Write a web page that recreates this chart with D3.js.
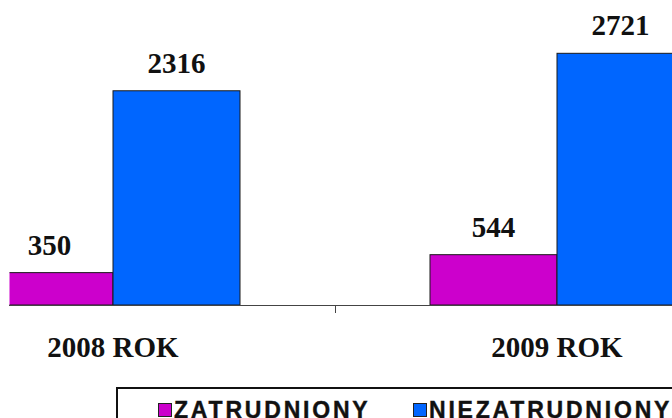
<!DOCTYPE html>
<html>
<head>
<meta charset="utf-8">
<script src="https://cdn.jsdelivr.net/npm/d3@7"></script>
<style>
html,body{margin:0;padding:0;background:#fff;}
svg{display:block;}
</style>
</head>
<body>
<script>
const categories = ["2008 ROK", "2009 ROK"];
const seriesNames = ["ZATRUDNIONY", "NIEZATRUDNIONY"];
const zatrudniony = [350, 544];
const niezatrudniony = [2316, 2721];
const seriesColors = ["#CC00CC", "#0066FF"];

const W = 672, H = 418;
const svg = d3.select("body").append("svg").attr("width", W).attr("height", H);

const x0 = d3.scaleBand().domain(categories).range([-109, 779]).paddingInner(0).paddingOuter(0);
const x1 = d3.scaleBand().domain(seriesNames).range([0, x0.bandwidth()]).paddingInner(0).paddingOuter(0.748);
const y = d3.scaleLinear().domain([0, 3000]).range([305, 27.5]);

const values = [zatrudniony, niezatrudniony];
const data = [];
categories.forEach((c, i) => {
  seriesNames.forEach((s, j) => {
    data.push({cat: c, series: s, value: values[j][i], color: seriesColors[j]});
  });
});

svg.append("defs").append("clipPath").attr("id", "plotclip")
  .append("rect").attr("x", 9.5).attr("y", 0).attr("width", W).attr("height", H);

const plot = svg.append("g").attr("clip-path", "url(#plotclip)");

plot.selectAll("rect.bar").data(data).enter().append("rect")
  .attr("class", "bar")
  .attr("x", d => x0(d.cat) + x1(d.series))
  .attr("width", x1.bandwidth())
  .attr("y", d => y(d.value))
  .attr("height", d => y(0) - y(d.value))
  .attr("fill", d => d.color)
  .attr("stroke", "#1a1a1a")
  .attr("stroke-width", 1);

// axis baseline and category divider tick
svg.append("line").attr("x1", 9).attr("x2", W).attr("y1", y(0) + 0.5).attr("y2", y(0) + 0.5)
  .attr("stroke", "#444").attr("stroke-width", 1);
svg.append("line")
  .attr("x1", x0("2009 ROK") + 0.5).attr("x2", x0("2009 ROK") + 0.5)
  .attr("y1", y(0)).attr("y2", y(0) + 8)
  .attr("stroke", "#444").attr("stroke-width", 1);

// value labels
svg.selectAll("text.val").data(data).enter().append("text")
  .attr("class", "val")
  .attr("x", d => x0(d.cat) + x1(d.series) + x1.bandwidth() / 2)
  .attr("y", d => y(d.value) - 18)
  .attr("text-anchor", "middle")
  .attr("font-family", "'Liberation Serif', 'Times New Roman', serif")
  .attr("font-weight", "bold")
  .attr("font-size", "29px")
  .attr("fill", "#111")
  .text(d => d.value);

// category labels
svg.selectAll("text.cat").data(categories).enter().append("text")
  .attr("class", "cat")
  .attr("x", d => x0(d) + x0.bandwidth() / 2)
  .attr("y", 357)
  .attr("text-anchor", "middle")
  .attr("font-family", "'Liberation Serif', 'Times New Roman', serif")
  .attr("font-weight", "bold")
  .attr("font-size", "29px")
  .attr("fill", "#111")
  .text(d => d);

// legend
const lg = svg.append("g");
lg.append("rect").attr("x", 117).attr("y", 388).attr("width", 700).attr("height", 100)
  .attr("fill", "#fff").attr("stroke", "#111").attr("stroke-width", 2);
const legendX = [158, 413];
seriesNames.forEach((s, j) => {
  lg.append("rect").attr("x", legendX[j] + 0.5).attr("y", 403.5).attr("width", 13).attr("height", 13)
    .attr("fill", seriesColors[j]).attr("stroke", "#222").attr("stroke-width", 1);
  lg.append("text").attr("x", legendX[j] + 16).attr("y", 418)
    .attr("font-family", "'Liberation Sans', Arial, sans-serif")
    .attr("font-weight", "bold")
    .attr("font-size", "23px")
    .attr("letter-spacing", "2.8px")
    .attr("fill", "#111")
    .attr("stroke", "#111")
    .attr("stroke-width", 0.4)
    .text(s);
});
</script>
</body>
</html>
